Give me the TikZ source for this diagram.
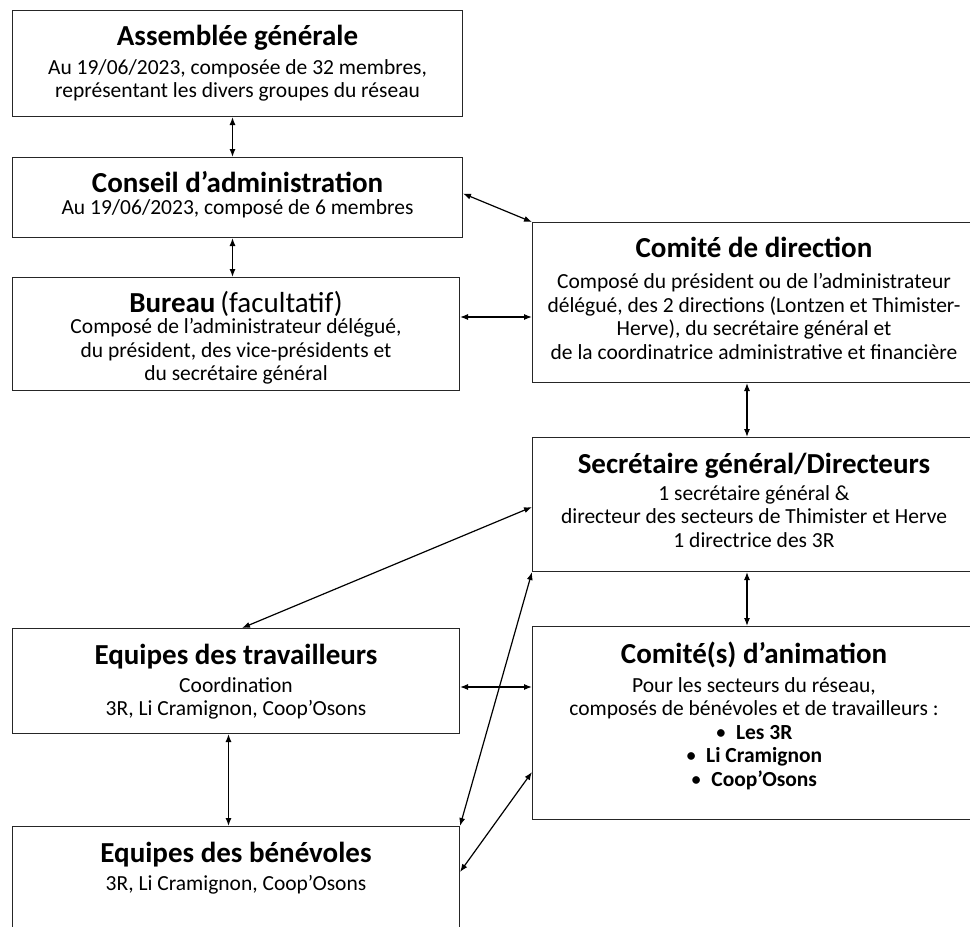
\documentclass[tikz,border=0pt]{standalone}
\usepackage{fontspec}
\setmainfont{Carlito}
\usetikzlibrary{positioning,arrows.meta}
\newcommand{\widthleft}{450pt}
\newcommand{\widthlower}{447pt}
\newcommand{\widthright}{520pt}
\newcommand{\ttl}[1]{{\fontsize{29}{32}\selectfont\bfseries\rule{0pt}{22.4pt}#1}}
\newcommand{\bigtxt}[1]{{\fontsize{29}{32}\selectfont #1}}
\tikzset{
    common/.style={draw=black!85, rectangle, line width=1pt, anchor=north west, inner sep=0pt},
    leftbox/.style={common, minimum width=\widthleft},
    lowerbox/.style={common, minimum width=\widthlower},
    rightbox/.style={common, minimum width=\widthright},
    txt/.style={align=center, inner sep=0pt, font=\fontsize{21.5}{23.5}\selectfont},
    righttxt/.style={txt, xshift=222pt},
    link/.style={{Latex[length=8pt,width=6pt]}-{Latex[length=8pt,width=6pt]}, line width=1.2pt}
}
\begin{document}
\begin{tikzpicture}[x=1pt, y=-1pt]
        \path[use as bounding box, clip] (0,0) rectangle (970,927);

        % left column
        \node[leftbox, minimum height=106pt] (ag) at (12,10) {};
        \node[txt, below=12.6pt of ag.north] (agtxt) {\ttl{Assemblée générale}\\[5.5pt]
            Au 19/06/2023, composée de 32 membres,\\
            représentant les divers groupes du réseau};

        \node[leftbox, minimum height=80pt] (ca) at (12,157) {};
        \node[txt, below=12.6pt of ca.north] (catxt) {\ttl{Conseil d’administration}\\[-1pt]
            Au 19/06/2023, composé de 6 membres};

        \node[lowerbox, minimum height=113pt] (bu) at (12,277) {};
        \node[txt, below=12.6pt of bu.north] (butxt) {\ttl{Bureau} \bigtxt{(facultatif)}\\[-2pt]
            Composé de l’administrateur délégué,\\
            du président, des vice-présidents et\\
            du secrétaire général};

        \node[lowerbox, minimum height=105pt] (et) at (12,628) {};
        \node[txt, below=14pt of et.north] (ettxt) {\ttl{Equipes des travailleurs}\\[4pt]
            Coordination\\
            3R, Li Cramignon, Coop’Osons};

        \node[lowerbox, minimum height=130pt] (eb) at (12,826) {};
        \node[txt, below=14pt of eb.north] (ebtxt) {\ttl{Equipes des bénévoles}\\[4pt]
            3R, Li Cramignon, Coop’Osons};

        % right column
        \node[rightbox, minimum height=160pt] (cd) at (532,222) {};
        \node[righttxt, below=12.6pt of cd.north west] (cdtxt) {\ttl{Comité de direction}\\[8pt]
            Composé du président ou de l’administrateur\\
            délégué, des 2 directions (Lontzen et Thimister-\\
            Herve), du secrétaire général et\\
            de la coordinatrice administrative et financière};

        \node[rightbox, minimum height=134pt] (sg) at (532,437) {};
        \node[righttxt, below=14pt of sg.north west] (sgtxt) {\ttl{Secrétaire général/Directeurs}\\[3pt]
            1 secrétaire général \&\\
            directeur des secteurs de Thimister et Herve\\
            1 directrice des 3R};

        \node[rightbox, minimum height=193pt] (an) at (532,626) {};
        \node[righttxt, below=15pt of an.north west] (antxt) {\ttl{Comité(s) d’animation}\\[5pt]
            Pour les secteurs du réseau,\\
            composés de bénévoles et de travailleurs :\\
            \textbullet\ \ \textbf{Les 3R}\\
            \textbullet\ \ \textbf{Li Cramignon}\\
            \textbullet\ \ \textbf{Coop’Osons}};

        % links
        \draw[link] ([xshift=-5pt]ag.south) -- ([xshift=-5pt]ca.north);
        \draw[link] ([xshift=-5pt]ca.south) -- ([xshift=-3.5pt]bu.north);
        \draw[link] ([yshift=4pt]ca.east) -- (cd.north west);
        \draw[link] ([yshift=-40pt]bu.north east) -- ([yshift=-40pt]bu.north east -| cd.west);
        \draw[link] ([xshift=215pt]cd.south west) -- ([xshift=215pt]sg.north west);
        \draw[link] ([xshift=6pt]et.north) -- ([yshift=-70pt]sg.north west);
        \draw[link] ([xshift=215pt]sg.south west) -- ([xshift=215pt]an.north west);
        \draw[link] ([yshift=-59pt]et.north east) -- ([yshift=-59pt]et.north east -| an.west);
        \draw[link] (sg.south west) -- (eb.north east);
        \draw[link] ([yshift=-146pt]an.north west) -- ([yshift=-46pt]eb.north east);
        \draw[link] ([xshift=-7.5pt]et.south) -- ([xshift=-7.5pt]eb.north);
    \end{tikzpicture}
\end{document}
